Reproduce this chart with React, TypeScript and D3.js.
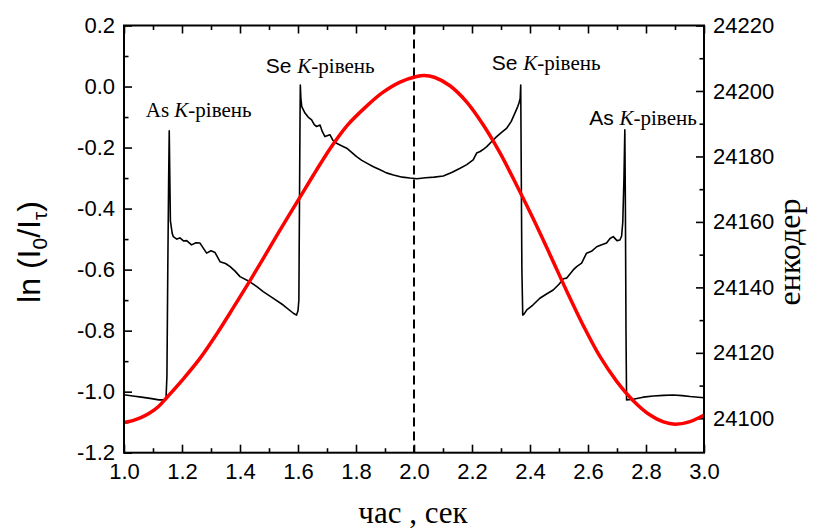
import React, { useEffect, useRef } from 'react';
import * as d3 from 'd3';

// absorption trace, ln(I0/It) vs time (left axis)
const absTime = [
  1.0, 1.03, 1.06, 1.09, 1.12, 1.138, 1.145, 1.148, 1.151, 1.154, 1.156, 1.158, 1.16, 1.166,
  1.17, 1.182, 1.193, 1.205, 1.216, 1.233, 1.248, 1.262, 1.275, 1.285, 1.3, 1.314, 1.331,
  1.35, 1.366, 1.383, 1.4, 1.434, 1.457, 1.48, 1.515, 1.549, 1.584, 1.595, 1.6, 1.603, 1.605,
  1.607, 1.608, 1.61, 1.613, 1.624, 1.635, 1.647, 1.656, 1.664, 1.676, 1.684, 1.693, 1.71,
  1.72, 1.733, 1.75, 1.768, 1.785, 1.802, 1.82, 1.837, 1.86, 1.883, 1.905, 1.929, 1.96,
  1.986, 2.01, 2.04, 2.07, 2.101, 2.13, 2.159, 2.182, 2.204, 2.216, 2.228, 2.24, 2.251,
  2.268, 2.285, 2.3, 2.32, 2.335, 2.348, 2.358, 2.362, 2.366, 2.368, 2.37, 2.372, 2.375,
  2.38, 2.389, 2.41, 2.434, 2.457, 2.48, 2.5, 2.515, 2.526, 2.549, 2.561, 2.578, 2.595,
  2.612, 2.63, 2.645, 2.664, 2.676, 2.687, 2.7, 2.71, 2.716, 2.72, 2.724, 2.727, 2.729,
  2.731, 2.733, 2.756, 2.79, 2.825, 2.86, 2.894, 2.925, 2.952, 3.0,
];
const absValue = [
  -1.01, -1.014, -1.018, -1.022, -1.027, -1.027, -1.02, -0.95, -0.6, -0.3, -0.145, -0.3, -0.44, -0.48,
  -0.492, -0.5, -0.496, -0.506, -0.505, -0.519, -0.512, -0.513, -0.532, -0.546, -0.538, -0.544, -0.574,
  -0.58, -0.59, -0.605, -0.623, -0.64, -0.655, -0.672, -0.694, -0.716, -0.743, -0.749, -0.735, -0.7, -0.4,
  -0.1, 0.005, -0.04, -0.066, -0.087, -0.1, -0.109, -0.125, -0.131, -0.126, -0.148, -0.164, -0.158,
  -0.176, -0.186, -0.194, -0.202, -0.216, -0.23, -0.242, -0.251, -0.263, -0.273, -0.283, -0.29, -0.297,
  -0.3, -0.302, -0.299, -0.297, -0.293, -0.282, -0.268, -0.256, -0.24, -0.218, -0.213, -0.205, -0.197,
  -0.18, -0.164, -0.152, -0.136, -0.115, -0.087, -0.065, -0.054, -0.04, 0.005, -0.3, -0.6, -0.749,
  -0.745, -0.732, -0.716, -0.694, -0.68, -0.667, -0.648, -0.63, -0.628, -0.601, -0.59, -0.579, -0.546,
  -0.54, -0.525, -0.519, -0.513, -0.498, -0.492, -0.505, -0.503, -0.49, -0.443, -0.3, -0.142, -0.4,
  -0.8, -1.027, -1.025, -1.018, -1.014, -1.012, -1.011, -1.013, -1.016, -1.02,
];

// encoder reading vs time (right axis)
const encTime = [
  1.0, 1.03, 1.06, 1.09, 1.12, 1.147, 1.204, 1.262, 1.32, 1.377, 1.434, 1.48, 1.54, 1.607,
  1.66, 1.71, 1.77, 1.837, 1.89, 1.952, 2.009, 2.035, 2.07, 2.124, 2.182, 2.239, 2.297,
  2.354, 2.412, 2.469, 2.526, 2.584, 2.641, 2.699, 2.756, 2.814, 2.86, 2.9, 2.952, 3.0,
];
const encValue = [
  24098.7, 24099.3, 24100.3, 24101.7, 24103.7, 24106.3, 24112.0, 24118.3, 24125.8, 24133.8,
  24142.0, 24148.8, 24157.8, 24167.6, 24175.3, 24182.3, 24189.5, 24195.4, 24199.4, 24202.7,
  24204.4, 24204.7, 24204.2, 24201.6, 24196.6, 24189.6, 24181.0, 24171.2, 24160.8, 24150.0,
  24139.0, 24128.3, 24118.9, 24111.3, 24105.4, 24101.0, 24098.9, 24098.2, 24099.0, 24101.0,
];

const xTicks = [1.0, 1.2, 1.4, 1.6, 1.8, 2.0, 2.2, 2.4, 2.6, 2.8, 3.0];
const xMinor = [1.1, 1.3, 1.5, 1.7, 1.9, 2.1, 2.3, 2.5, 2.7, 2.9];
const leftTicks = [-1.2, -1.0, -0.8, -0.6, -0.4, -0.2, 0.0, 0.2];
const leftMinor = [-1.1, -0.9, -0.7, -0.5, -0.3, -0.1, 0.1];
const rightTicks = [24100, 24120, 24140, 24160, 24180, 24200, 24220];
const rightMinor = [24110, 24130, 24150, 24170, 24190, 24210];

// edge annotations: element, whether element is serif, anchor (time, left-axis value)
const edgeNames = ['As', 'Se', 'Se', 'As'];
const edgeSerif = [true, false, false, false];
const edgeTime = [1.075, 1.489, 2.268, 2.604];
const edgeValue = [-0.1, 0.044, 0.053, -0.126];

const SANS = "'Liberation Sans', Arial, sans-serif";
const SERIF = "'Liberation Serif', 'Times New Roman', serif";

function App() {
  const ref = useRef<SVGSVGElement>(null);

  useEffect(() => {
    const svg = d3.select(ref.current);
    svg.selectAll('*').remove();

    const left = 124, right = 704, top = 25.5, bottom = 452.7;

    const x = d3.scaleLinear().domain([1, 3]).range([left, right]);
    const yL = d3.scaleLinear().domain([-1.2, 0.2]).range([bottom, top]);
    const yR = d3.scaleLinear().domain([24089.5, 24220]).range([bottom, top]);

    svg.append('defs').append('clipPath').attr('id', 'plot-clip')
      .append('rect')
      .attr('x', left).attr('y', top)
      .attr('width', right - left).attr('height', bottom - top);

    const fmt = (d: any) => (+d).toFixed(1);
    const styleAxis = (g: any) => {
      g.select('.domain').remove();
      g.selectAll('line').attr('stroke', '#000').attr('stroke-width', 1.6);
      g.selectAll('text').attr('fill', '#000').style('font-family', SANS).style('font-size', '22px');
    };

    // axes (ticks point inward)
    svg.append('g').attr('transform', `translate(0,${bottom})`)
      .call(d3.axisBottom(x).tickValues(xTicks).tickSize(-8).tickPadding(11).tickFormat(fmt))
      .call(styleAxis);
    svg.append('g').attr('transform', `translate(0,${bottom})`)
      .call(d3.axisBottom(x).tickValues(xMinor).tickSize(-4.5).tickFormat(() => ''))
      .call(styleAxis);
    svg.append('g').attr('transform', `translate(0,${top})`)
      .call(d3.axisTop(x).tickValues(xTicks).tickSize(-8).tickFormat(() => ''))
      .call(styleAxis);
    svg.append('g').attr('transform', `translate(0,${top})`)
      .call(d3.axisTop(x).tickValues(xMinor).tickSize(-4.5).tickFormat(() => ''))
      .call(styleAxis);
    svg.append('g').attr('transform', `translate(${left},0)`)
      .call(d3.axisLeft(yL).tickValues(leftTicks).tickSize(-8).tickPadding(9).tickFormat(fmt))
      .call(styleAxis);
    svg.append('g').attr('transform', `translate(${left},0)`)
      .call(d3.axisLeft(yL).tickValues(leftMinor).tickSize(-4.5).tickFormat(() => ''))
      .call(styleAxis);
    svg.append('g').attr('transform', `translate(${right},0)`)
      .call(d3.axisRight(yR).tickValues(rightTicks).tickSize(-8).tickPadding(9).tickFormat((d: any) => String(d)))
      .call(styleAxis);
    svg.append('g').attr('transform', `translate(${right},0)`)
      .call(d3.axisRight(yR).tickValues(rightMinor).tickSize(-4.5).tickFormat(() => ''))
      .call(styleAxis);

    const plot = svg.append('g').attr('clip-path', 'url(#plot-clip)');

    // dashed marker at t = 2.0
    plot.append('line')
      .attr('x1', x(2)).attr('x2', x(2))
      .attr('y1', top).attr('y2', bottom)
      .attr('stroke', '#000').attr('stroke-width', 2)
      .attr('stroke-dasharray', '9,5');

    const absLine = d3.line<number>()
      .x((_, i) => x(absTime[i]))
      .y((d) => yL(d));
    plot.append('path')
      .datum(absValue)
      .attr('d', absLine)
      .attr('fill', 'none')
      .attr('stroke', '#000')
      .attr('stroke-width', 1.6)
      .attr('stroke-linejoin', 'round');

    const encLine = d3.line<number>()
      .x((_, i) => x(encTime[i]))
      .y((d) => yR(d))
      .curve(d3.curveCatmullRom.alpha(0.5));
    plot.append('path')
      .datum(encValue)
      .attr('d', encLine)
      .attr('fill', 'none')
      .attr('stroke', '#ff0000')
      .attr('stroke-width', 3.5);

    // frame
    svg.append('rect')
      .attr('x', left).attr('y', top)
      .attr('width', right - left).attr('height', bottom - top)
      .attr('fill', 'none').attr('stroke', '#000').attr('stroke-width', 2);

    // edge labels
    edgeNames.forEach((name, i) => {
      const t = svg.append('text')
        .attr('x', x(edgeTime[i]))
        .attr('y', yL(edgeValue[i]))
        .attr('fill', '#000')
        .style('font-size', '21px');
      t.append('tspan').style('font-family', edgeSerif[i] ? SERIF : SANS).text(name + ' ');
      t.append('tspan').style('font-family', SERIF).style('font-style', 'italic').text('K');
      t.append('tspan').style('font-family', SERIF).text('-рівень');
    });

    // axis titles
    const yTitle = svg.append('text')
      .attr('transform', 'translate(40,252) rotate(-90)')
      .attr('text-anchor', 'middle')
      .attr('fill', '#000')
      .style('font-family', SANS)
      .style('font-size', '32px');
    yTitle.append('tspan').text('ln (I');
    yTitle.append('tspan').attr('dy', 7).style('font-size', '21px').text('0');
    yTitle.append('tspan').attr('dy', -7).text('/I');
    yTitle.append('tspan').attr('dy', 7).style('font-size', '21px').text('τ');
    yTitle.append('tspan').attr('dy', -7).text(')');

    svg.append('text')
      .attr('transform', 'translate(800,252) rotate(-90)')
      .attr('text-anchor', 'middle')
      .attr('fill', '#000')
      .style('font-family', SERIF)
      .style('font-size', '32px')
      .text('енкодер');

    svg.append('text')
      .attr('x', 413)
      .attr('y', 523)
      .attr('text-anchor', 'middle')
      .attr('fill', '#000')
      .style('font-family', SERIF)
      .style('font-size', '31px')
      .text('час , сек');
  }, []);

  return (
    <svg
      ref={ref}
      width={813}
      height={532}
      style={{ position: 'absolute', left: 0, top: 0, background: '#fff' }}
    />
  );
}

export default App;
